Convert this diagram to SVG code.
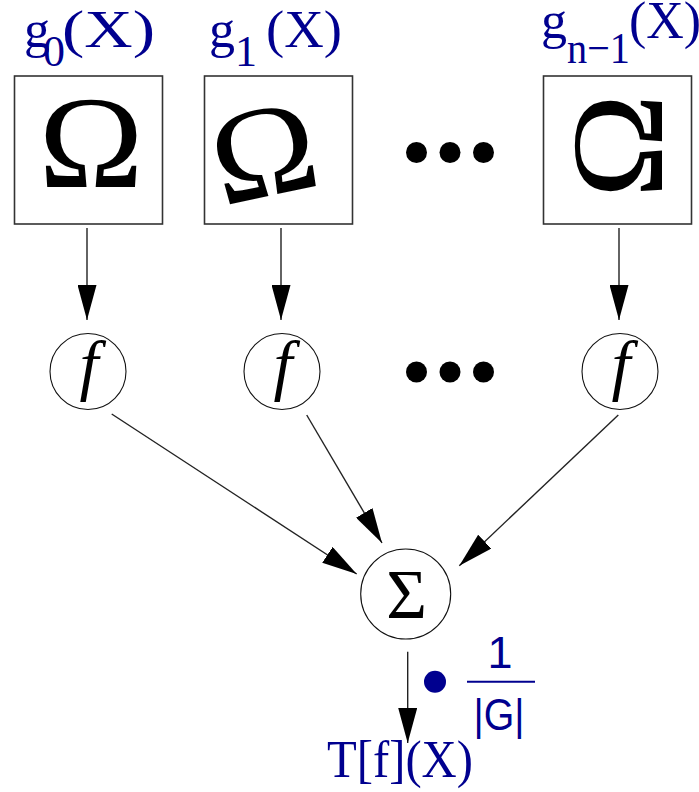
<svg xmlns="http://www.w3.org/2000/svg" width="699" height="792" viewBox="0 0 699 792">
<style>
.box{fill:#fff;stroke:#333;stroke-width:1.6}
.circ{fill:#fff;stroke:#111;stroke-width:1.1}
.omega{font-family:"Liberation Serif",serif;font-size:131px;fill:#000;text-anchor:middle}
.fn{font-family:"Liberation Serif",serif;font-style:italic;font-size:68px;fill:#000;text-anchor:middle}
.sig{font-family:"Liberation Serif",serif;font-size:70px;fill:#000;text-anchor:middle}
.lbl{font-family:"Liberation Serif",serif;font-size:52px;fill:#00008f}
.sub{font-family:"Liberation Serif",serif;font-size:44px;fill:#00008f}
.sans{font-family:"Liberation Sans",Arial,sans-serif;font-size:45px;fill:#00008f;text-anchor:middle}
.conn{stroke:#222;stroke-width:1.4;fill:none;marker-end:url(#ah)}
.dot{fill:#000}
</style>
<defs>
<marker id="ah" viewBox="0 0 35 19" refX="35" refY="9.5" markerWidth="35" markerHeight="19" markerUnits="userSpaceOnUse" orient="auto">
<path d="M0,0 L35,9.5 L0,19 Z" fill="#000"/>
</marker>
</defs>

<g id="label-g0">
<text class="lbl" x="24" y="47">g</text>
<text class="sub" x="43" y="66">0</text>
<text class="lbl" x="62" y="47" textLength="93" lengthAdjust="spacingAndGlyphs">(X)</text>
</g>
<g id="label-g1">
<text class="lbl" x="209" y="47">g</text>
<text class="sub" x="235" y="66">1</text>
<text class="lbl" x="266" y="47" textLength="76" lengthAdjust="spacingAndGlyphs">(X)</text>
</g>
<g id="label-gn1">
<text class="lbl" x="541" y="38">g</text>
<text class="sub" x="567" y="63" font-size="42" textLength="63" lengthAdjust="spacingAndGlyphs">n−1</text>
<text class="lbl" x="629" y="38">(X)</text>
</g>

<g id="box0">
<rect class="box" x="14.5" y="76" width="148" height="148"/>
<text class="omega" transform="translate(91,146) scale(1.08,1)" x="0" y="41">Ω</text>
</g>
<g id="box1">
<rect class="box" x="204.5" y="76" width="148" height="148"/>
<text class="omega" transform="translate(264.5,155) rotate(-12) scale(1.08,1)" x="0" y="41">Ω</text>
</g>
<g id="box-dots">
<circle class="dot" cx="416.5" cy="152.5" r="10.5"/>
<circle class="dot" cx="450" cy="152.5" r="10.5"/>
<circle class="dot" cx="483.5" cy="152.5" r="10.5"/>
</g>
<g id="boxn1">
<rect class="box" x="543.5" y="76" width="148" height="148"/>
<text class="omega" transform="translate(620.5,146) rotate(-90) scale(1.08,1)" x="0" y="41">Ω</text>
</g>

<g id="f0">
<circle class="circ" cx="88" cy="371.5" r="38"/>
<text class="fn" x="89" y="388">f</text>
</g>
<g id="f1">
<circle class="circ" cx="282" cy="371.5" r="38"/>
<text class="fn" x="283" y="388">f</text>
</g>
<g id="f-dots">
<circle class="dot" cx="416.5" cy="372" r="10.5"/>
<circle class="dot" cx="450" cy="372" r="10.5"/>
<circle class="dot" cx="483.5" cy="372" r="10.5"/>
</g>
<g id="fn1">
<circle class="circ" cx="620" cy="371.5" r="38"/>
<text class="fn" x="621" y="388">f</text>
</g>

<g id="sum">
<circle class="circ" cx="405.7" cy="594" r="45"/>
<text class="sig" x="406.7" y="618">Σ</text>
</g>

<g id="connectors">
<line class="conn" x1="87" y1="228" x2="87" y2="320"/>
<line class="conn" x1="281" y1="228" x2="281" y2="320"/>
<line class="conn" x1="619" y1="228" x2="619" y2="320"/>
<line class="conn" x1="111.7" y1="414" x2="356.7" y2="574"/>
<line class="conn" x1="306.7" y1="415" x2="382" y2="543"/>
<line class="conn" x1="618.3" y1="415" x2="459.3" y2="565.7"/>
<line class="conn" x1="407.7" y1="651.7" x2="407.7" y2="743"/>
</g>

<g id="scale-factor">
<circle cx="435" cy="681.7" r="11" fill="#00008f"/>
<text class="sans" x="500" y="668">1</text>
<line x1="467" y1="681.7" x2="535" y2="681.7" stroke="#00008f" stroke-width="2"/>
<text class="sans" x="499" y="730" font-size="44" textLength="51" lengthAdjust="spacingAndGlyphs">|G|</text>
</g>

<g id="output-label">
<text class="lbl" x="327" y="777" font-size="44" textLength="146" lengthAdjust="spacingAndGlyphs">T[f](X)</text>
</g>
</svg>
